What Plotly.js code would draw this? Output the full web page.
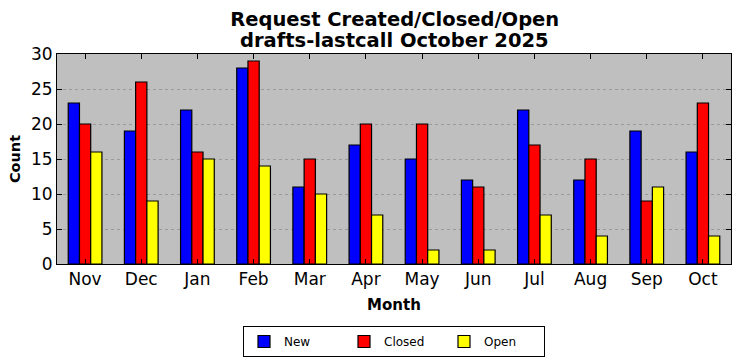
<!DOCTYPE html>
<html><head><meta charset="utf-8">
<script src="https://cdn.plot.ly/plotly-3.0.1.min.js"></script>
<style>html,body{margin:0;padding:0;background:#fff;}#chart{width:742px;height:361px;}</style>
</head><body><div id="chart"></div>
<script>
const months = ["Nov","Dec","Jan","Feb","Mar","Apr","May","Jun","Jul","Aug","Sep","Oct"];
const newVals = [23,19,22,28,11,17,15,12,22,12,19,16];
const closedVals = [20,26,16,29,15,20,20,11,17,15,9,23];
const openVals = [16,9,15,14,10,7,2,2,7,4,11,4];
const yTicks = [0,5,10,15,20,25,30];
const titleLine1 = 'Request Created/Closed/Open';
const titleLine2 = 'drafts-lastcall October 2025';

function bar(name, y, color){
  return {type:'bar', name:name, x:months, y:y,
    marker:{color:color, line:{color:'#000', width:1.2}}};
}
const data = [bar('New', newVals, '#0000ff'), bar('Closed', closedVals, '#ff0000'), bar('Open', openVals, '#ffff00')];
const font = 'DejaVu Sans, sans-serif';
const layout = {
  width:742, height:361,
  margin:{l:57, r:11, t:54, b:97, autoexpand:false},
  paper_bgcolor:'#fff', plot_bgcolor:'#bfbfbf',
  font:{family:font, color:'#000'},
  title:{text:'<b>'+titleLine1+'</b>', font:{family:font, size:19.5, color:'#000'},
    x:0.532, xanchor:'center', yref:'container', y:0.947, yanchor:'middle'},
  annotations:[{text:'<b>'+titleLine2+'</b>', xref:'paper', yref:'paper', x:0.5, y:1.062, xanchor:'center', yanchor:'middle',
    showarrow:false, font:{family:font, size:19.5, color:'#000'}}],
  barmode:'group', bargap:0.4, bargroupgap:0,
  xaxis:{type:'category', range:[-0.5,11.5], showline:true, linecolor:'#000', linewidth:1, mirror:'ticks',
    ticks:'inside', ticklen:5, tickcolor:'#000', tickfont:{size:17, family:font},
    title:{text:'<b>Month</b>', font:{size:15, family:font}, standoff:11}, showgrid:false, zeroline:false, fixedrange:true},
  yaxis:{range:[0,30], tickvals:yTicks, showline:true, linecolor:'#000', linewidth:1, mirror:'ticks',
    ticks:'inside', ticklen:5, tickcolor:'#000', tickfont:{size:17, family:font},
    title:{text:'<b>Count</b>', font:{size:14.5, family:font}, standoff:6},
    showgrid:true, gridcolor:'#8a8a8a', griddash:'dot', gridwidth:0.7, zeroline:false},
  legend:{orientation:'h', xref:'paper', x:0.5, xanchor:'center', yref:'container', y:0.097, yanchor:'top', bordercolor:'#000', borderwidth:1,
    font:{size:12, family:font}, bgcolor:'#fff', traceorder:'normal', itemwidth:30, entrywidth:55},
  showlegend:true
};
Plotly.newPlot('chart', data, layout, {displayModeBar:false, staticPlot:true});
</script></body></html>
